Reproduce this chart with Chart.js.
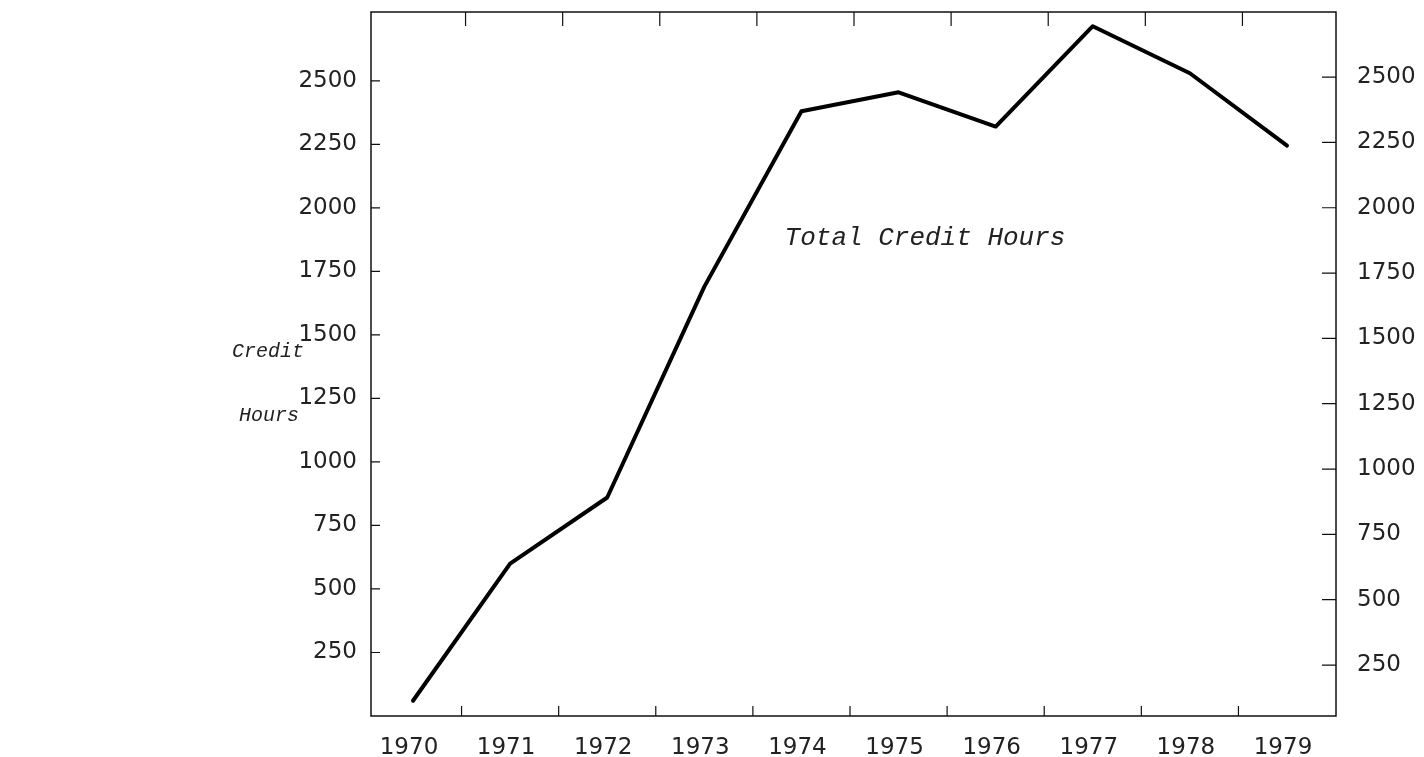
<!DOCTYPE html>
<html>
<head>
<meta charset="utf-8">
<script src="https://cdn.jsdelivr.net/npm/chart.js@4/dist/chart.umd.min.js"></script>
<style>
  html, body { margin: 0; padding: 0; background: #fff; }
  canvas { display: block; }
</style>
</head>
<body>
<canvas id="chart" width="1424" height="757"></canvas>
<script>
/** DATA */
const years = [1970, 1971, 1972, 1973, 1974, 1975, 1976, 1977, 1978, 1979];
const creditHours = [60, 600, 860, 1690, 2380, 2455, 2320, 2715, 2530, 2245];
const yTickValues = [250, 500, 750, 1000, 1250, 1500, 1750, 2000, 2250, 2500];
const xTickMarks = [1970.5, 1971.5, 1972.5, 1973.5, 1974.5, 1975.5, 1976.5, 1977.5, 1978.5];
const seriesLabel = 'Total Credit Hours';
const axisTitle = ['Credit', 'Hours'];

const tickFont = { family: 'DejaVu Sans', size: 23 };

/** PLUGIN: frame, inward tick marks and free text */
const frameAndNotes = {
    id: 'frameAndNotes',
    afterDraw(chart) {
        const ctx = chart.ctx;
        const area = chart.chartArea;
        const x = chart.scales.x;
        const y = chart.scales.y;
        const y2 = chart.scales.y2;

        ctx.save();
        ctx.strokeStyle = '#111';
        ctx.lineWidth = 1.5;
        ctx.strokeRect(area.left, area.top, area.right - area.left, area.bottom - area.top);

        ctx.lineWidth = 1.2;
        ctx.beginPath();
        // bottom and top marks between the years
        xTickMarks.forEach(function (v) {
            const px = x.getPixelForValue(v);
            ctx.moveTo(px, area.bottom);
            ctx.lineTo(px, area.bottom - 10);
            ctx.moveTo(px + 4, area.top);
            ctx.lineTo(px + 4, area.top + 14);
        });
        // left and right marks
        yTickValues.forEach(function (v) {
            const pl = y.getPixelForValue(v);
            ctx.moveTo(area.left, pl);
            ctx.lineTo(area.left + 9, pl);
            const pr = y2.getPixelForValue(v);
            ctx.moveTo(area.right, pr);
            ctx.lineTo(area.right - 14, pr);
        });
        ctx.stroke();

        // notes
        ctx.fillStyle = '#222';
        ctx.textAlign = 'center';
        ctx.textBaseline = 'middle';
        ctx.font = 'italic 26px "Liberation Mono"';
        ctx.fillText(seriesLabel, 925, 238);
        ctx.font = 'italic 20px "Liberation Mono"';
        ctx.fillText(axisTitle[0], 268, 352);
        ctx.fillText(axisTitle[1], 269, 416);
        ctx.restore();
    }
};

function noPadY(scale, w) {
    scale.width = w;
    scale.paddingTop = 0;
    scale.paddingBottom = 0;
}

const ctx = document.getElementById('chart').getContext('2d');
new Chart(ctx, {
    type: 'line',
    data: {
        datasets: [{
            label: seriesLabel,
            data: years.map(function (yr, i) { return { x: yr, y: creditHours[i] }; }),
            borderColor: '#000',
            borderWidth: 4,
            borderCapStyle: 'round',
            borderJoinStyle: 'round',
            pointRadius: 0,
            tension: 0,
            fill: false,
            yAxisID: 'y'
        }]
    },
    options: {
        responsive: false,
        devicePixelRatio: 1,
        animation: false,
        layout: { padding: { top: 12, left: 0, right: 0, bottom: 0 } },
        plugins: {
            legend: { display: false },
            tooltip: { enabled: false }
        },
        scales: {
            x: {
                type: 'linear',
                min: 1969.5675,
                max: 1979.5046,
                grid: { display: false, drawTicks: false },
                border: { display: false },
                afterBuildTicks: function (scale) {
                    scale.ticks = years.map(function (v) { return { value: v }; });
                },
                afterFit: function (scale) {
                    scale.height = 41;
                    scale.paddingLeft = 0;
                    scale.paddingRight = 0;
                },
                ticks: {
                    padding: 18,
                    labelOffset: -4,
                    color: '#222',
                    font: tickFont,
                    maxRotation: 0,
                    autoSkip: false,
                    callback: function (v) { return String(v); }
                }
            },
            y: {
                type: 'linear',
                position: 'left',
                min: 0,
                max: 2771,
                grid: { display: false, drawTicks: false },
                border: { display: false },
                afterBuildTicks: function (scale) {
                    scale.ticks = yTickValues.map(function (v) { return { value: v }; });
                },
                afterFit: function (scale) { noPadY(scale, 371); },
                ticks: {
                    padding: 14, color: '#222', font: tickFont,
                    callback: function (v) { return String(v); }
                }
            },
            y2: {
                type: 'linear',
                position: 'right',
                min: 55,
                max: 2749,
                grid: { display: false, drawTicks: false },
                border: { display: false },
                afterBuildTicks: function (scale) {
                    scale.ticks = yTickValues.map(function (v) { return { value: v }; });
                },
                afterFit: function (scale) { noPadY(scale, 88); },
                ticks: {
                    padding: 21, color: '#222', font: tickFont,
                    callback: function (v) { return String(v); }
                }
            }
        }
    },
    plugins: [frameAndNotes]
});
</script>
</body>
</html>
